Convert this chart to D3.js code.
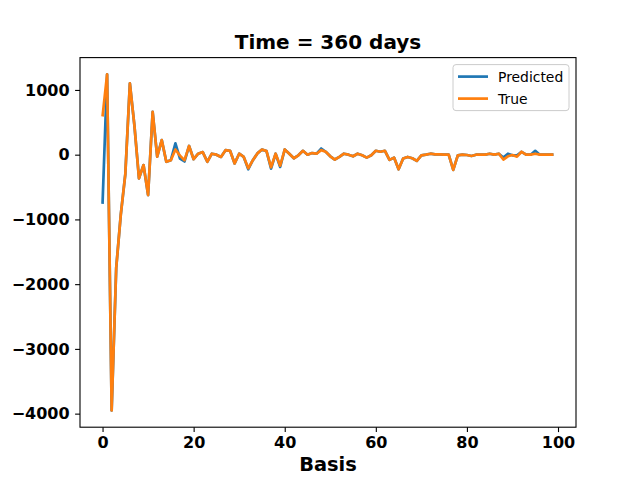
<!DOCTYPE html>
<html>
<head>
<meta charset="utf-8">
<script src="https://cdn.jsdelivr.net/npm/d3@7"></script>
<style>
  body { margin: 0; background: #fff; }
  svg { display: block; }
  text { font-family: "DejaVu Sans", sans-serif; }
</style>
</head>
<body>
<div id="chart"></div>
<script>
const basis = d3.range(100);

const trueVals = [
  590, 1240, -3950, -1750, -930, -300, 1100, 450, -365, -160,
  -625, 660, -30, 225, -110, -85, 80, -15, -85, 135,
  -70, 15, 40, -110, 15, 0, -35, 70, 60, -135,
  15, -35, -210, -85, 20, 80, 55, -195, 15, -170,
  80, 15, -55, -10, 60, 0, 25, 15, 70, 45,
  -25, -75, -35, 15, 0, -25, 15, -10, -45, -10,
  60, 45, 60, -80, -45, -225, -60, -35, -55, -95,
  -10, 0, 15, 5, 5, 0, 0, -235, -10, 0,
  -5, -20, 0, 0, 0, 15, 0, 15, -75, -25,
  -5, -30, 45, 0, 0, 15, 0, 0, 0, 0
];

const predVals = [
  -760, 1240, -3950, -1750, -930, -300, 1100, 450, -365, -160,
  -625, 660, -30, 225, -110, -85, 175, -60, -105, 135,
  -70, 15, 40, -110, 15, 0, -35, 70, 60, -135,
  15, -35, -225, -85, 20, 80, 55, -215, 15, -190,
  80, 15, -55, -10, 60, 0, 25, 15, 95, 45,
  -25, -75, -35, 15, 0, -25, 15, -10, -45, -10,
  60, 45, 60, -80, -45, -225, -60, -35, -55, -95,
  -10, 0, 15, 5, 5, 0, 0, -235, -10, 0,
  -5, -20, 0, 0, 0, 15, 0, 15, -45, 15,
  -10, -10, 45, 0, 0, 60, 0, 0, 0, 0
];

const xTicks = [0, 20, 40, 60, 80, 100];
const yTicks = [1000, 0, -1000, -2000, -3000, -4000];
const seriesNames = ["Predicted", "True"];
const seriesColors = ["#1f77b4", "#ff7f0e"];

const width = 640, height = 480;
const margin = { left: 80, right: 64, top: 57.6, bottom: 52.8 };
const innerW = width - margin.left - margin.right;
const innerH = height - margin.top - margin.bottom;

const svg = d3.select("#chart")
  .append("svg")
  .attr("width", width)
  .attr("height", height);

const g = svg.append("g")
  .attr("transform", `translate(${margin.left},${margin.top})`);

// matplotlib style 5% padding around the data
const xExt = d3.extent(basis);
const xPad = (xExt[1] - xExt[0]) * 0.05;
const x = d3.scaleLinear()
  .domain([xExt[0] - xPad, xExt[1] + xPad])
  .range([0, innerW]);

const yExt = d3.extent(trueVals.concat(predVals));
const yPad = (yExt[1] - yExt[0]) * 0.05;
const y = d3.scaleLinear()
  .domain([yExt[0] - yPad, yExt[1] + yPad])
  .range([innerH, 0]);

const fmt = (d) => String(d).replace("-", "\u2212");

const xAxis = g.append("g")
  .attr("transform", `translate(0,${innerH})`)
  .call(d3.axisBottom(x).tickValues(xTicks).tickFormat(fmt)
    .tickSize(4.9).tickPadding(4.9));

const yAxis = g.append("g")
  .call(d3.axisLeft(y).tickValues(yTicks).tickFormat(fmt)
    .tickSize(4.9).tickPadding(5.5));

[xAxis, yAxis].forEach((ax) => {
  ax.attr("font-size", null).attr("font-family", null);
  ax.select(".domain").remove();
  ax.selectAll(".tick line").attr("stroke", "#000").attr("stroke-width", 1.1);
  ax.selectAll(".tick text")
    .attr("fill", "#000")
    .style("font-family", "'DejaVu Sans', sans-serif")
    .style("font-size", "16px")
    .style("font-weight", "bold");
});

const line = d3.line()
  .x((d, i) => x(basis[i]))
  .y((d) => y(d));

const plot = g.append("g");
[predVals, trueVals].forEach((vals, k) => {
  plot.append("path")
    .datum(vals)
    .attr("fill", "none")
    .attr("stroke", seriesColors[k])
    .attr("stroke-width", 2.7)
    .attr("stroke-linejoin", "round")
    .attr("stroke-linecap", "butt")
    .attr("d", line);
});

// frame
g.append("rect")
  .attr("width", innerW)
  .attr("height", innerH)
  .attr("fill", "none")
  .attr("stroke", "#000")
  .attr("stroke-width", 1.1);

// title and axis label
svg.append("text")
  .attr("x", margin.left + innerW / 2)
  .attr("y", 49)
  .attr("text-anchor", "middle")
  .style("font-size", "20px")
  .style("font-weight", "bold")
  .text("Time = 360 days");

svg.append("text")
  .attr("x", margin.left + innerW / 2)
  .attr("y", 471)
  .attr("text-anchor", "middle")
  .style("font-size", "19.4px")
  .style("font-weight", "bold")
  .text("Basis");

// legend
const lg = g.append("g").attr("transform", `translate(${innerW - 123},7)`);
lg.append("rect")
  .attr("width", 116)
  .attr("height", 46)
  .attr("rx", 3)
  .attr("fill", "#fff")
  .attr("fill-opacity", 0.8)
  .attr("stroke", "#ccc");

seriesNames.forEach((name, i) => {
  const row = lg.append("g").attr("transform", `translate(0,${12 + i * 22})`);
  row.append("line")
    .attr("x1", 5).attr("x2", 35)
    .attr("stroke", seriesColors[i])
    .attr("stroke-width", 2.7);
  row.append("text")
    .attr("x", 45)
    .attr("y", 5)
    .style("font-size", "13.9px")
    .text(name);
});
</script>
</body>
</html>
